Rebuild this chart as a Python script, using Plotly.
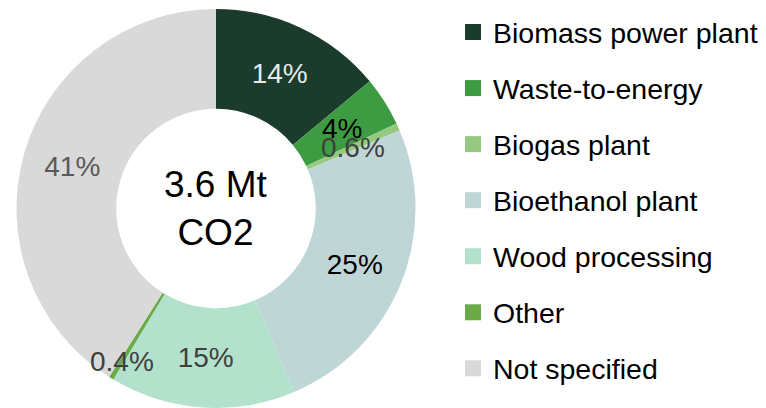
import math
import plotly.graph_objects as go

categories = ['Biomass power plant', 'Waste-to-energy', 'Biogas plant',
              'Bioethanol plant', 'Wood processing', 'Other', 'Not specified']
shares = [14, 4, 0.6, 25, 15, 0.4, 41]
share_labels = ['14%', '4%', '0.6%', '25%', '15%', '0.4%', '41%']
total_label = '3.6 Mt<br>CO2'

colors = ['#1b3b2d', '#3d9b42', '#95c97f', '#bfd6d6', '#b2e2cc', '#6aab47', '#d9d9d9']
text_colors = ['#e8e8e8', '#000000', '#404040', '#000000', '#404040', '#404040', '#595959']
# slices too thin for plotly's inside text get a placed label instead
small = [False, True, True, False, False, True, False]
label_radius = [0.75, 0.75, 0.75, 0.75, 0.75, 0.9, 0.75]

W, H = 766, 408
dom_x = [16 / W, 416 / W]
dom_y = [0, 399 / H]

font = 'Liberation Sans, Arial, sans-serif'

fig = go.Figure()

fig.add_trace(go.Pie(
    labels=categories,
    values=shares,
    text=['' if s else t for t, s in zip(share_labels, small)],
    textinfo='text',
    textposition='inside',
    insidetextorientation='horizontal',
    textfont=dict(size=28, color=text_colors, family=font),
    marker=dict(colors=colors, line=dict(width=0)),
    hole=0.5,
    sort=False,
    direction='clockwise',
    rotation=0,
    showlegend=False,
    domain=dict(x=dom_x, y=dom_y),
))

# legend entries with larger swatches and wider spacing than a pie legend allows
for name, c in zip(categories, colors):
    fig.add_trace(go.Scatter(
        x=[None], y=[None], mode='markers',
        marker=dict(symbol='square', size=16, color=c),
        name=name, legendgroup=name, showlegend=True,
    ))

# labels for the thin slices, at the mid-angle of each slice
cx = (dom_x[0] + dom_x[1]) / 2 * W
cy = (dom_y[0] + dom_y[1]) / 2 * H
r = min((dom_x[1] - dom_x[0]) * W, (dom_y[1] - dom_y[0]) * H) / 2
tot = sum(shares)
cum = 0
for v, t, s, tc, rf in zip(shares, share_labels, small, text_colors, label_radius):
    mid = (cum + v / 2) / tot * 2 * math.pi
    cum += v
    if not s:
        continue
    fig.add_annotation(
        x=(cx + rf * r * math.sin(mid)) / W,
        y=(cy + rf * r * math.cos(mid)) / H,
        xref='paper', yref='paper', text=t, showarrow=False,
        xanchor='center', yanchor='middle',
        font=dict(size=28, color=tc, family=font),
    )

fig.add_annotation(
    x=cx / W, y=cy / H, xref='paper', yref='paper',
    text=total_label, showarrow=False,
    xanchor='center', yanchor='middle',
    font=dict(size=37, color='#000000', family=font),
)

fig.update_layout(
    width=W, height=H,
    margin=dict(t=0, r=0, b=0, l=0),
    paper_bgcolor='white',
    plot_bgcolor='white',
    xaxis=dict(visible=False),
    yaxis=dict(visible=False),
    legend=dict(
        x=453 / W, xanchor='left',
        y=1 - 7 / H, yanchor='top',
        font=dict(size=28.5, color='#000000', family=font),
        tracegroupgap=16,
        itemwidth=30,
        bgcolor='rgba(0,0,0,0)',
    ),
)

fig.write_html('out.html', config={'displayModeBar': False},
               post_script="document.body.style.margin='0';")
